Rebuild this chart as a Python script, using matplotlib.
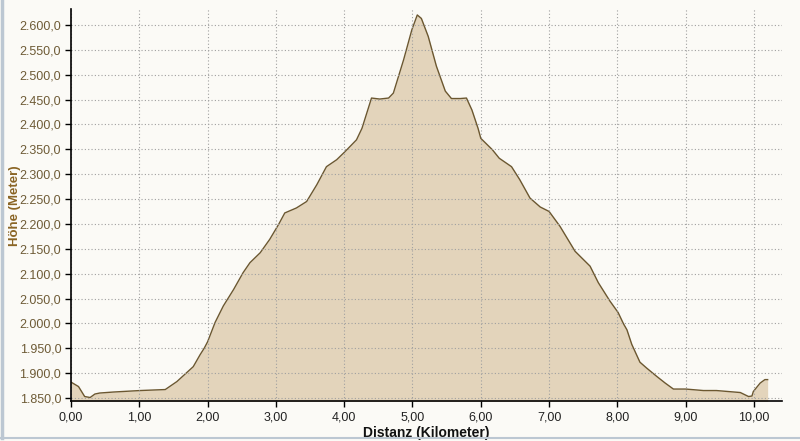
import matplotlib
matplotlib.use("Agg")
import matplotlib.pyplot as plt
from matplotlib.lines import Line2D
from matplotlib.ticker import FuncFormatter

# Distance (km) and elevation (m)
distanz = [0.00, 0.11, 0.20, 0.28, 0.35, 0.42, 0.62, 1.01, 1.38, 1.55, 1.79, 1.89,
           1.95, 2.00, 2.11, 2.23, 2.38, 2.52, 2.62, 2.77, 2.91, 3.04, 3.13, 3.30,
           3.45, 3.60, 3.74, 3.89, 4.01, 4.18, 4.26, 4.40, 4.52, 4.65, 4.72, 4.87,
           4.99, 5.07, 5.13, 5.23, 5.35, 5.48, 5.57, 5.70, 5.79, 5.87, 5.96, 6.00,
           6.17, 6.27, 6.45, 6.57, 6.72, 6.87, 7.00, 7.16, 7.38, 7.60, 7.72, 7.89,
           8.01, 8.09, 8.14, 8.21, 8.33, 8.43, 8.58, 8.70, 8.82, 9.00, 9.26, 9.45,
           9.80, 9.92, 9.97, 9.99, 10.09, 10.16, 10.20]
hoehe = [1882, 1873, 1853, 1851, 1858, 1860, 1862, 1865, 1867, 1883, 1913, 1937,
         1950, 1963, 2002, 2035, 2068, 2102, 2122, 2142, 2169, 2199, 2222, 2232,
         2245, 2279, 2315, 2329, 2345, 2369, 2392, 2453, 2451, 2453, 2463, 2530,
         2590, 2620, 2613, 2577, 2517, 2467, 2452, 2452, 2453, 2429, 2392, 2372,
         2349, 2332, 2315, 2289, 2252, 2234, 2225, 2195, 2145, 2115, 2082, 2045,
         2022, 1999, 1987, 1958, 1922, 1910, 1893, 1880, 1868, 1868, 1865, 1865,
         1861, 1853, 1854, 1863, 1880, 1887, 1887]

x_ticks = list(range(0, 11))
y_ticks = list(range(1850, 2601, 50))

bg = "#FBFAF6"


def de_num(v, decimals):
    # German number format: 2.600,0
    s = f"{v:,.{decimals}f}"
    return s.replace(",", "X").replace(".", ",").replace("X", ".")


plt.rcParams["font.family"] = ["Liberation Sans", "DejaVu Sans"]

fig = plt.figure(figsize=(8, 4.41), dpi=100, facecolor=bg)
ax = fig.add_axes([0.08875, 0.0896, 0.88875, 0.89])
ax.set_facecolor(bg)

ymin, ymax = 1843, 2632
ax.set_xlim(0, 10.41)
ax.set_ylim(ymin, ymax)

ax.fill_between(distanz, hoehe, ymin, color="#E3D4BB", lw=0, zorder=1)
ax.plot(distanz, hoehe, color="#6B5730", lw=1.0, zorder=2)

ax.set_xticks(x_ticks)
ax.set_yticks(y_ticks)
ax.xaxis.set_major_formatter(FuncFormatter(lambda v, p: de_num(v, 2)))
ax.yaxis.set_major_formatter(FuncFormatter(lambda v, p: de_num(v, 1)))

ax.set_axisbelow(False)
ax.grid(True, color="#A0A0A0", linestyle=(0, (1, 2)), lw=0.8)

for s in ["top", "right"]:
    ax.spines[s].set_visible(False)
for s in ["left", "bottom"]:
    ax.spines[s].set_color("black")
    ax.spines[s].set_linewidth(1.2)
    ax.spines[s].set_zorder(5)

ax.tick_params(axis="both", direction="out", length=4, width=1, color="black", labelsize=9)
ax.tick_params(axis="y", labelcolor="#6E5B36", pad=3)
ax.tick_params(axis="x", labelcolor="#222222", pad=3)

ax.set_xlabel("Distanz (Kilometer)", fontsize=10, fontweight="bold", color="#111111", labelpad=2)
ax.set_ylabel("Höhe (Meter)", fontsize=9.5, fontweight="bold", color="#8A6424")
ax.yaxis.set_label_coords(-0.071, 0.5)

# light frame on the left and bottom edge of the picture
fig.add_artist(Line2D([0.0025, 0.0025], [0.007, 1.0], transform=fig.transFigure,
                      color="#BCC7D2", lw=2.5))
fig.add_artist(Line2D([0.0, 1.0], [0.007, 0.007], transform=fig.transFigure,
                      color="#BCC7D2", lw=1.5))

fig.savefig("out.png", dpi=100, facecolor=bg)
